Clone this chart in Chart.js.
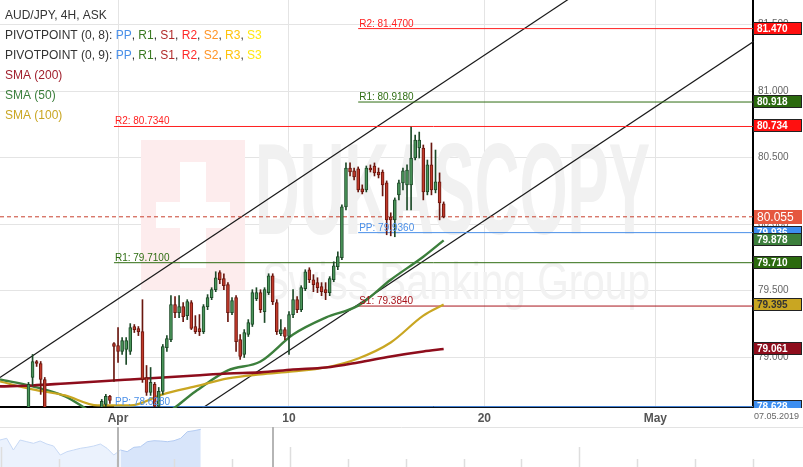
<!DOCTYPE html>
<html>
<head>
<meta charset="utf-8">
<script src="https://cdn.jsdelivr.net/npm/chart.js@4.4.1/dist/chart.umd.min.js"></script>
<style>
  body { margin: 0; background: #fff; overflow: hidden; }
  #main { position: absolute; left: 0; top: 0; }
  #nav { position: absolute; left: 0; top: 427px; }
</style>
</head>
<body>
<canvas id="main" width="803" height="427"></canvas>
<canvas id="nav" width="803" height="40"></canvas>
<script>
// AUD/JPY 4H candles, index 0 = first bar of April
const firstIndex = -22;
const opens = [
  78.592, 78.847, 78.967, 78.952, 78.832, 78.570, 78.500, 78.450, 78.500, 78.530,
  78.490, 78.420, 78.450, 78.480, 78.530, 78.510, 78.550, 78.580, 78.615, 78.645,
  78.705, 79.102, 79.087, 79.042, 79.057, 79.042, 79.230, 79.215, 79.192, 78.847,
  78.735, 78.795, 78.630, 78.742, 79.072, 79.132, 79.395, 79.335, 79.380, 79.312,
  79.410, 79.230, 79.215, 79.192, 79.380, 79.447, 79.507, 79.635, 79.590, 79.545,
  79.335, 79.447, 79.132, 79.020, 79.170, 79.245, 79.440, 79.485, 79.342, 79.485,
  79.612, 79.410, 79.177, 79.207, 79.155, 79.320, 79.432, 79.357, 79.515, 79.657,
  79.582, 79.560, 79.530, 79.507, 79.485, 79.582, 79.680, 79.747, 80.130, 80.422,
  80.400, 80.415, 80.265, 80.257, 80.422, 80.437, 80.392, 80.392, 80.310, 80.055,
  80.032, 80.220, 80.310, 80.295, 80.295, 80.497, 80.572, 80.572, 80.242, 80.445,
  80.257, 80.317, 80.152
];
const highs = [
  78.810, 79.020, 78.975, 78.967, 78.847, 78.600, 78.540, 78.520, 78.560, 78.590,
  78.520, 78.470, 78.510, 78.550, 78.580, 78.560, 78.600, 78.610, 78.682, 78.720,
  78.712, 79.110, 79.222, 79.147, 79.147, 79.252, 79.245, 79.230, 79.432, 78.937,
  78.922, 78.810, 78.772, 79.095, 79.162, 79.462, 79.455, 79.462, 79.410, 79.432,
  79.425, 79.312, 79.320, 79.395, 79.470, 79.522, 79.642, 79.650, 79.627, 79.560,
  79.447, 79.462, 79.170, 79.207, 79.282, 79.507, 79.522, 79.507, 79.522, 79.627,
  79.627, 79.432, 79.282, 79.222, 79.342, 79.507, 79.455, 79.537, 79.657, 79.672,
  79.620, 79.597, 79.560, 79.560, 79.605, 79.717, 79.792, 80.145, 80.460, 80.460,
  80.422, 80.430, 80.295, 80.437, 80.445, 80.460, 80.422, 80.407, 80.325, 80.085,
  80.197, 80.332, 80.422, 80.445, 80.730, 80.670, 80.692, 80.595, 80.482, 80.610,
  80.557, 80.385, 80.167
];
const lows = [
  78.577, 78.787, 78.930, 78.720, 78.532, 78.480, 78.420, 78.430, 78.470, 78.480,
  78.400, 78.380, 78.430, 78.460, 78.490, 78.480, 78.520, 78.550, 78.607, 78.622,
  78.652, 78.817, 78.960, 79.020, 78.945, 79.020, 79.185, 79.162, 78.810, 78.712,
  78.712, 78.607, 78.592, 78.720, 79.042, 79.117, 79.297, 79.297, 79.267, 79.282,
  79.207, 79.177, 79.162, 79.177, 79.357, 79.432, 79.492, 79.552, 79.507, 79.267,
  79.320, 79.042, 78.982, 78.997, 79.155, 79.230, 79.425, 79.335, 79.260, 79.470,
  79.395, 79.170, 79.162, 79.132, 79.020, 79.297, 79.335, 79.342, 79.500, 79.560,
  79.492, 79.485, 79.462, 79.432, 79.462, 79.567, 79.657, 79.732, 80.107, 80.362,
  80.332, 80.242, 80.227, 80.242, 80.392, 80.362, 80.347, 80.212, 79.920, 79.912,
  79.905, 80.182, 80.257, 80.107, 80.107, 80.482, 80.497, 80.182, 80.220, 80.220,
  80.235, 80.032, 80.047
];
const closes = [
  78.795, 78.967, 78.952, 78.832, 78.570, 78.500, 78.450, 78.500, 78.530, 78.490,
  78.420, 78.450, 78.480, 78.530, 78.510, 78.550, 78.580, 78.600, 78.667, 78.705,
  78.675, 79.080, 79.042, 79.125, 79.125, 79.222, 79.207, 79.192, 78.832, 78.735,
  78.810, 78.630, 78.742, 79.080, 79.140, 79.395, 79.335, 79.380, 79.305, 79.417,
  79.215, 79.192, 79.192, 79.380, 79.447, 79.507, 79.597, 79.582, 79.537, 79.335,
  79.425, 79.117, 79.005, 79.185, 79.260, 79.485, 79.485, 79.357, 79.507, 79.612,
  79.417, 79.192, 79.207, 79.155, 79.320, 79.432, 79.357, 79.522, 79.642, 79.582,
  79.545, 79.522, 79.492, 79.485, 79.590, 79.687, 79.755, 80.130, 80.422, 80.392,
  80.355, 80.257, 80.242, 80.422, 80.407, 80.385, 80.370, 80.295, 80.032, 80.032,
  80.182, 80.310, 80.400, 80.407, 80.497, 80.632, 80.632, 80.242, 80.445, 80.257,
  80.317, 80.160, 80.055
];

// moving averages, sampled every 8 bars
const smaIndex = [-29, -21, -13, -5, 3, 11, 19, 27, 35, 43, 51, 59, 67, 75, 80];
const sma200 = [78.780, 78.787, 78.802, 78.817, 78.832, 78.847, 78.862, 78.877, 78.885, 78.907, 78.922, 78.960, 79.005, 79.042, 79.061];
const sma100 = [78.817, 78.757, 78.712, 78.637, 78.637, 78.720, 78.780, 78.840, 78.870, 78.892, 78.922, 78.990, 79.110, 79.312, 79.395];
const sma50  = [78.832, 78.780, 78.705, 78.570, 78.547, 78.570, 78.742, 78.900, 78.967, 79.170, 79.297, 79.387, 79.582, 79.755, 79.878];

// pivot points (two sets)
const pivotNames  = ['R2', 'R1', 'PP', 'S1', 'R2', 'R1', 'PP'];
const pivotValues = [81.4700, 80.9180, 79.9360, 79.3840, 80.7340, 79.7100, 78.6280];
const pivotStart  = [59, 59, 59, 59, -1, -1, -1];
const pivotColors = ['#ff1f1f', '#2f6d12', '#4a8fe8', '#a8141c', '#ff1f1f', '#2f6d12', '#4a8fe8'];

// channel lines [index, price]
const channelUpper = [[-29, 78.847], [120, 81.881]];
const channelLower = [[15, 78.500], [160, 81.452]];

const lastPrice = 80.055;

// right-hand price tags
const tagValues = [81.470, 80.918, 80.734, 79.936, 79.878, 79.710, 79.395, 79.061, 78.628];
const tagColors = ['#ff1010', '#2b6a0e', '#ff1010', '#3d8ef0', '#3c7f3c', '#2b6a0e', '#c9a622', '#8e0d1c', '#3d8ef0'];
const tagText   = ['#fff', '#fff', '#fff', '#fff', '#fff', '#fff', '#333', '#fff', '#fff'];

// axes
const xMin = -29, xMax = 156;
const yMin = 78.625, yMax = 81.685;
const tickIndex  = [0, 42, 90, 132];
const tickLabels = ['Apr', '10', '20', 'May'];
const yTickValues = [79.0, 79.5, 80.0, 80.5, 81.0, 81.5];

// navigator strip
const navValues = [27, 28.7, 17, 27, 25.3, 23.7, 26, 23, 21, 12, 15.3, 17, 18.7, 19.7, 21, 23,
                   18.7, 12, 17, 15.3, 19.7, 20.3, 25.3, 26.3, 26, 25.3, 26.3, 28.7, 35.3, 36.3, 37.7];
const navSplit = 18;
const navWindow = [17.6, 40.8];

const FONT = '"Liberation Sans", Arial, sans-serif';
Chart.defaults.font.family = FONT;

const upFill = '#4a955a', upLine = '#1d4a28';
const downFill = '#c13a2b', downLine = '#6a170f';

const candleX = opens.map((o, k) => firstIndex + k);
const isUp = k => closes[k] >= opens[k];

function line(points, color, width, order, extra) {
  return Object.assign({
    type: 'line',
    data: points,
    borderColor: color,
    borderWidth: width,
    pointRadius: 0,
    fill: false,
    order: order,
    clip: 1
  }, extra || {});
}

const datasets = [];

datasets.push(line(channelUpper.map(p => ({x: p[0], y: p[1]})), '#1a1a1a', 1.2, 60));
datasets.push(line(channelLower.map(p => ({x: p[0], y: p[1]})), '#1a1a1a', 1.2, 60));

pivotValues.forEach((v, k) => {
  datasets.push(line([{x: pivotStart[k], y: v}, {x: xMax, y: v}], pivotColors[k], 1, 50));
});

datasets.push(line([{x: xMin, y: lastPrice}, {x: xMax, y: lastPrice}], '#c8412e', 1, 45, {borderDash: [4, 3]}));

const smaOpts = {cubicInterpolationMode: 'monotone'};
datasets.push(line(smaIndex.map((x, k) => ({x, y: sma200[k]})), '#8e0d1c', 2.6, 40, smaOpts));
datasets.push(line(smaIndex.map((x, k) => ({x, y: sma100[k]})), '#c9a622', 2.2, 40, smaOpts));
datasets.push(line(smaIndex.map((x, k) => ({x, y: sma50[k]})), '#3c7f3c', 2.4, 40, smaOpts));

datasets.push({
  type: 'bar',
  data: candleX.map((x, k) => ({x, y: [lows[k], highs[k]]})),
  backgroundColor: candleX.map((x, k) => isUp(k) ? upLine : downLine),
  barThickness: 1,
  grouped: false,
  order: 20,
  clip: 0
});
datasets.push({
  type: 'bar',
  data: candleX.map((x, k) => ({x, y: [opens[k], closes[k]]})),
  backgroundColor: candleX.map((x, k) => isUp(k) ? upFill : downFill),
  borderColor: candleX.map((x, k) => isUp(k) ? upLine : downLine),
  borderWidth: 1,
  borderSkipped: false,
  barThickness: 3,
  grouped: false,
  order: 10,
  clip: 0
});

function fitText(ctx, text, font, color, x, baseline, width) {
  ctx.save();
  ctx.font = font;
  const w = ctx.measureText(text).width;
  ctx.translate(x, baseline);
  ctx.scale(width / w, 1);
  ctx.fillStyle = color;
  ctx.textBaseline = 'alphabetic';
  ctx.fillText(text, 0, 0);
  ctx.restore();
}

const overlay = {
  id: 'overlay',
  beforeDatasetsDraw(chart) {
    const {ctx, chartArea: a} = chart;
    ctx.save();
    ctx.beginPath();
    ctx.rect(a.left, a.top, a.right - a.left, a.bottom - a.top);
    ctx.clip();
    // faint watermark
    ctx.fillStyle = '#fdeced';
    ctx.fillRect(141, 140, 104, 150);
    ctx.fillStyle = '#ffffff';
    ctx.fillRect(180, 162, 26, 106);
    ctx.fillRect(156, 202, 74, 26);
    fitText(ctx, 'DUKASCOPY', 'bold 130px ' + FONT, '#f1f1f1', 255, 234, 395);
    fitText(ctx, 'Swiss Banking Group', '52px ' + FONT, '#f2f2f2', 262, 299, 388);
    ctx.restore();
  },
  afterDatasetsDraw(chart) {
    const {ctx, scales: {x, y}} = chart;
    ctx.save();
    // pivot labels
    ctx.font = '10px ' + FONT;
    ctx.textBaseline = 'alphabetic';
    ctx.textAlign = 'left';
    pivotValues.forEach((v, k) => {
      ctx.fillStyle = pivotColors[k];
      ctx.fillText(pivotNames[k] + ': ' + v.toFixed(4), x.getPixelForValue(pivotStart[k]) + 1, y.getPixelForValue(v) - 2);
    });

    // legend text
    const rows = [
      [['AUD/JPY, 4H, ASK', '#333']],
      [['PIVOTPOINT (0, 8): ', '#333'], ['PP', '#4a8fe8'], [', ', '#333'], ['R1', '#3b7a22'], [', ', '#333'], ['S1', '#b02a2a'], [', ', '#333'], ['R2', '#ff2a2a'], [', ', '#333'], ['S2', '#ff9426'], [', ', '#333'], ['R3', '#ffc20a'], [', ', '#333'], ['S3', '#ffe812']],
      [['PIVOTPOINT (0, 9): ', '#333'], ['PP', '#4a8fe8'], [', ', '#333'], ['R1', '#3b7a22'], [', ', '#333'], ['S1', '#b02a2a'], [', ', '#333'], ['R2', '#ff2a2a'], [', ', '#333'], ['S2', '#ff9426'], [', ', '#333'], ['R3', '#ffc20a'], [', ', '#333'], ['S3', '#ffe812']],
      [['SMA (200)', '#a01f2c']],
      [['SMA (50)', '#3c7f3c']],
      [['SMA (100)', '#c9a622']]
    ];
    ctx.font = '12px ' + FONT;
    ctx.textBaseline = 'middle';
    rows.forEach((row, r) => {
      let px = 5;
      row.forEach(([t, c]) => {
        ctx.fillStyle = c;
        ctx.fillText(t, px, 16 + r * 20);
        px += ctx.measureText(t).width;
      });
    });

    // price tags on the right axis
    const left = chart.chartArea.right;
    ctx.beginPath();
    ctx.rect(left - 1, 0, 60, chart.chartArea.bottom + 1);
    ctx.clip();
    ctx.font = 'bold 10px ' + FONT;
    ctx.lineWidth = 1;
    tagValues.forEach((v, k) => {
      const py = Math.round(y.getPixelForValue(v));
      ctx.fillStyle = tagColors[k];
      ctx.fillRect(left + 0.5, py - 6, 48, 12);
      ctx.strokeStyle = '#222';
      ctx.strokeRect(left + 0.5, py - 6.5, 48, 12);
      ctx.fillStyle = tagText[k];
      ctx.fillText(v.toFixed(3), left + 4, py + 0.5);
    });
    const ly = Math.round(y.getPixelForValue(lastPrice));
    ctx.fillStyle = '#e5573f';
    ctx.fillRect(left + 1, ly - 7, 48, 14);
    ctx.fillStyle = '#fff';
    ctx.font = '12px ' + FONT;
    ctx.fillText(lastPrice.toFixed(3), left + 4, ly + 0.5);
    ctx.restore();

    // date under the price axis
    ctx.save();
    ctx.font = '9px ' + FONT;
    ctx.fillStyle = '#666';
    ctx.textBaseline = 'middle';
    ctx.fillText('07.05.2019', left + 1, 417);
    ctx.restore();
  }
};

// no extra room for the end tick labels: chart area fills the canvas edges
const noPad = s => { s.paddingTop = 0; s.paddingBottom = 0; s.paddingLeft = 0; s.paddingRight = 0; };

new Chart(document.getElementById('main').getContext('2d'), {
  type: 'bar',
  data: {datasets},
  options: {
    responsive: false,
    devicePixelRatio: 1,
    animation: false,
    layout: {padding: 0},
    plugins: {legend: {display: false}, tooltip: {enabled: false}},
    scales: {
      x: {
        type: 'linear',
        min: xMin,
        max: xMax,
        offset: false,
        afterBuildTicks: s => { s.ticks = tickIndex.map(v => ({value: v})); },
        afterFit: s => { s.height = 20; noPad(s); },
        ticks: {
          autoSkip: false,
          maxRotation: 0,
          padding: 4,
          color: '#555',
          font: {size: 12, weight: 'bold'},
          callback: v => tickLabels[tickIndex.indexOf(v)]
        },
        grid: {color: '#e4e4e4', drawTicks: false, offset: false},
        border: {color: '#000', width: 2}
      },
      y: {
        position: 'right',
        min: yMin,
        max: yMax,
        afterBuildTicks: s => { s.ticks = yTickValues.map(v => ({value: v})); },
        afterFit: s => { s.width = 50; noPad(s); },
        ticks: {
          padding: 5,
          color: '#666',
          font: {size: 10},
          callback: v => v.toFixed(3)
        },
        grid: {color: '#e4e4e4', drawTicks: false},
        border: {color: '#000', width: 2}
      }
    }
  },
  plugins: [overlay]
});

// navigator
const navIdx = navValues.map((v, k) => k);
const navDeco = {
  id: 'navDeco',
  afterDatasetsDraw(chart) {
    const {ctx, scales: {x}} = chart;
    ctx.save();
    ctx.strokeStyle = '#e3e3e3';
    ctx.lineWidth = 1;
    ctx.beginPath();
    ctx.moveTo(0, 0.5);
    ctx.lineTo(803, 0.5);
    ctx.stroke();
    x.ticks.forEach((t, k) => {
      const px = Math.round(x.getPixelForValue(t.value)) + 0.5;
      ctx.strokeStyle = '#dedede';
      ctx.lineWidth = 1.5;
      ctx.beginPath();
      ctx.moveTo(px, k % 5 === 0 ? 20 : 32);
      ctx.lineTo(px, 40);
      ctx.stroke();
    });
    ctx.strokeStyle = '#b5b5b5';
    ctx.lineWidth = 2;
    navWindow.forEach(v => {
      const px = Math.round(x.getPixelForValue(v));
      ctx.beginPath();
      ctx.moveTo(px, 0);
      ctx.lineTo(px, 40);
      ctx.stroke();
    });
    ctx.restore();
  }
};

new Chart(document.getElementById('nav').getContext('2d'), {
  type: 'line',
  data: {
    datasets: [
      {
        data: navIdx.filter(k => k <= navSplit).map(k => ({x: k, y: navValues[k]})),
        borderColor: '#c7d9f5',
        backgroundColor: '#ebf2fd',
        borderWidth: 1,
        pointRadius: 0,
        fill: 'origin'
      },
      {
        data: navIdx.filter(k => k >= navSplit).map(k => ({x: k, y: navValues[k]})),
        borderColor: '#b3cbf2',
        backgroundColor: '#d8e5fa',
        borderWidth: 1,
        pointRadius: 0,
        fill: 'origin'
      }
    ]
  },
  options: {
    responsive: false,
    devicePixelRatio: 1,
    animation: false,
    layout: {padding: 0},
    plugins: {legend: {display: false}, tooltip: {enabled: false}},
    scales: {
      x: {
        type: 'linear', min: 0, max: 120, display: false,
        afterBuildTicks: s => {
          const t = [];
          for (let v = 0.15; v < 120; v += 4.32) t.push({value: v});
          s.ticks = t;
        }
      },
      y: {min: 0, max: 40, display: false}
    }
  },
  plugins: [navDeco]
});
</script>
</body>
</html>
